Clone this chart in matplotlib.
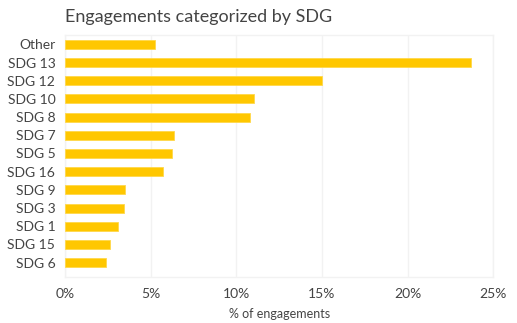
import matplotlib.pyplot as plt
from matplotlib.ticker import FuncFormatter

plt.rcParams['font.family'] = ['Lato', 'DejaVu Sans']

categories = ["Other", "SDG 13", "SDG 12", "SDG 10", "SDG 8", "SDG 7", "SDG 5",
              "SDG 16", "SDG 9", "SDG 3", "SDG 1", "SDG 15", "SDG 6"]
share = [5.26, 23.7, 15.0, 11.04, 10.77, 6.37, 6.23, 5.74, 3.49, 3.43, 3.12, 2.61, 2.39]

text_col = "#444444"
grid_col = "#f2f2f2"

fig = plt.figure(figsize=(5.17, 3.23), dpi=100)
ax = fig.add_axes([0.1257, 0.1424, 0.8285, 0.7502])

ypos = list(range(len(categories)))
ax.barh(ypos, share, height=0.5, color="#FFC700", edgecolor="#FFD84A", linewidth=0.6, zorder=3)

ax.set_ylim(len(categories) - 1 + 0.79, -0.53)
ax.set_xlim(0, 25)
ax.set_yticks(ypos)
ax.set_yticklabels(categories)
ax.set_xticks([0, 5, 10, 15, 20, 25])
ax.xaxis.set_major_formatter(FuncFormatter(lambda v, p: f"{v:.0f}%"))

ax.tick_params(axis="both", length=0, labelsize=10, colors=text_col)
ax.tick_params(axis="y", pad=7)
ax.tick_params(axis="x", pad=8)
ax.grid(axis="x", color=grid_col, linewidth=1, zorder=0)
for s in ax.spines.values():
    s.set_color(grid_col)
    s.set_linewidth(1)

ax.set_xlabel("% of engagements", fontsize=9, color=text_col, labelpad=6)
ax.set_title("Engagements categorized by SDG", loc="left", fontsize=13,
             color=text_col, pad=9)

fig.savefig("out.png", dpi=100)
